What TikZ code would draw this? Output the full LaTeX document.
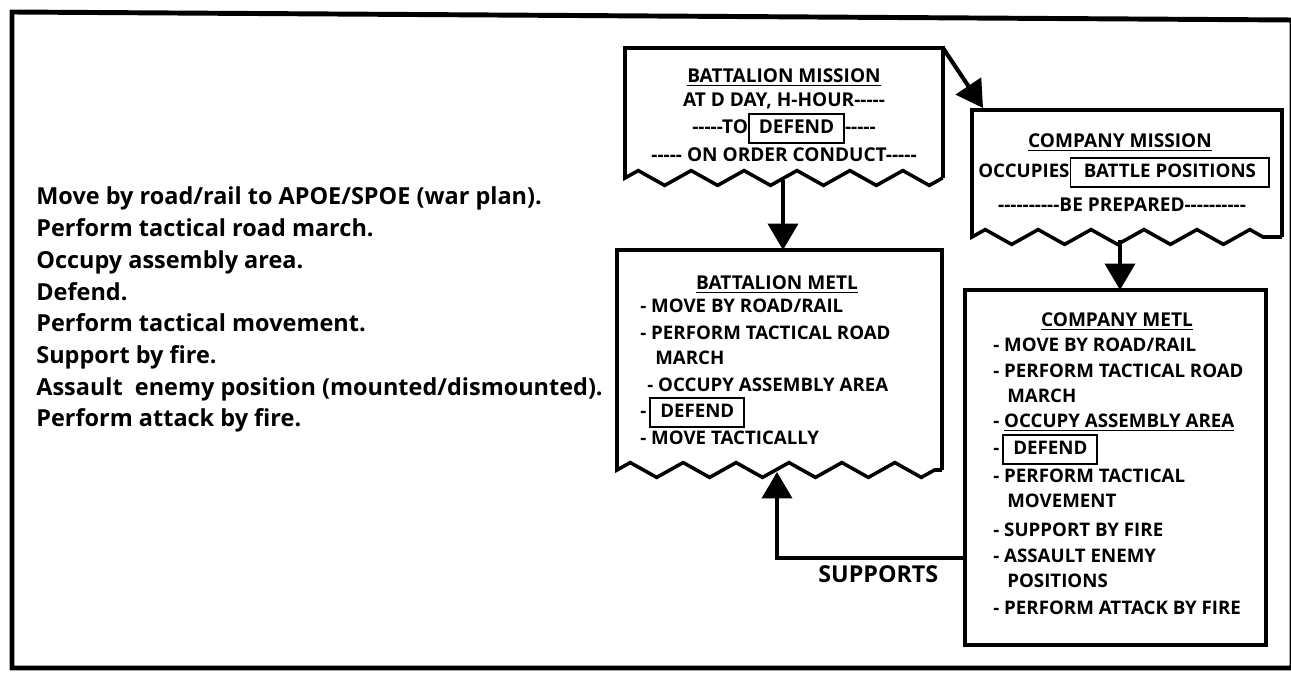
\documentclass[tikz,border=0pt]{standalone}
\usepackage{fontspec}
\setmainfont{Open Sans}[Ligatures=TeXOff]
\usetikzlibrary{arrows.meta,decorations.pathmorphing}
\tikzset{
  frame/.style={line width=2.8pt},
  box/.style={line width=2pt, line join=miter},
  torn/.style={decoration={zigzag, segment length=30pt, amplitude=4.2pt}},
  flow/.style={line width=2.3pt, line join=miter, -{Triangle[length=15pt,width=17pt]}},
  tasktext/.style={anchor=base west, inner sep=0pt, font=\fontsize{13.3}{15}\selectfont\bfseries},
  metltext/.style={anchor=base west, inner sep=0pt, font=\fontsize{10.6}{12}\selectfont\bfseries},
  boxtitle/.style={anchor=base, inner sep=0pt, font=\fontsize{10.8}{12}\selectfont\bfseries},
}
\newcommand{\taskbox}[2]{{\setlength{\fboxrule}{1.1pt}\setlength{\fboxsep}{0pt}%
  \fbox{\rule[-4.5pt]{0pt}{15.5pt}\hspace{#2}#1\hspace{#2}}}}
\begin{document}
\begin{tikzpicture}[x=0.5669pt, y=-0.5669pt]
\useasboundingbox (0,0) rectangle (1291,675);
\draw[frame] (12,668) -- (12,12) -- (1292,20) -- (1292,668) -- cycle;

% unit tasks
\foreach \t [count=\i] in {Move by road/rail to APOE/SPOE (war plan).,
  Perform tactical road march., Occupy assembly area., Defend.,
  Perform tactical movement., Support by fire.,
  Assault\ \ enemy position (mounted/dismounted)., Perform attack by fire.}
  \node[tasktext] (task\i) at (36,{205+31.7*(\i-1)}) {\t};

% battalion mission
\coordinate (bm-nw) at (625,48);
\coordinate (bm-ne) at (943,48);
\draw[box] (943,178) -- (bm-ne) -- (bm-nw) -- (625,178) decorate[torn]{-- (943,178)};
\node[boxtitle] (bm-title) at (784,83) {\underline{BATTALION MISSION}};
\node[boxtitle] (bm-l1) at (784,107) {AT D DAY, H-HOUR-----};
\node[boxtitle] (bm-l2) at (784,134) {-----TO\taskbox{DEFEND}{5pt}-----};
\node[boxtitle] (bm-l3) at (784,162) {----- ON ORDER CONDUCT-----};

% battalion metl
\coordinate (bmetl-nw) at (617,250);
\draw[box] (942,470) -- (942,250) -- (bmetl-nw) -- (617,470) decorate[torn]{-- (942,470)};
\node[boxtitle] (bmetl-title) at (777,290) {\underline{BATTALION METL}};
\node[metltext] (bmetl1) at (640,313) {- MOVE BY ROAD/RAIL};
\node[metltext] (bmetl2) at (640,340) {- PERFORM TACTICAL ROAD};
\node[metltext] (bmetl3) at (655,365) {MARCH};
\node[metltext] (bmetl4) at (647,392) {- OCCUPY ASSEMBLY AREA};
\node[metltext] (bmetl5) at (640,418) {-\,\taskbox{DEFEND}{5pt}};
\node[metltext] (bmetl6) at (640,445) {- MOVE TACTICALLY};

% company mission
\coordinate (cm-nw) at (972,110);
\draw[box] (1282,237) -- (1282,110) -- (cm-nw) -- (972,237) decorate[torn]{-- (1282,237)};
\node[boxtitle] (cm-title) at (1120,148) {\underline{COMPANY MISSION}};
\node[metltext] (cm-l1) at (978,178) {OCCUPIES\taskbox{BATTLE POSITIONS}{7pt}};
\node[boxtitle] (cm-l2) at (1122,212) {----------BE PREPARED----------};

% company metl
\coordinate (cmetl-nw) at (965,290);
\coordinate (cmetl-se) at (1266,645);
\draw[box] (cmetl-nw) rectangle (cmetl-se);
\node[boxtitle] (cmetl-title) at (1117,327) {\underline{COMPANY METL}};
\foreach \t/\x/\y [count=\i] in {{- MOVE BY ROAD/RAIL}/993/352, {- PERFORM TACTICAL ROAD}/993/378,
  {MARCH}/1007/403, {- \underline{OCCUPY ASSEMBLY AREA}}/993/428, {-\,\taskbox{DEFEND}{5pt}}/993/455,
  {- PERFORM TACTICAL}/993/483, {MOVEMENT}/1007/508, {- SUPPORT BY FIRE}/993/537,
  {- ASSAULT ENEMY}/993/563, {POSITIONS}/1007/588, {- PERFORM ATTACK BY FIRE}/993/615}
  \node[metltext] (cmetl\i) at (\x,\y) {\t};

% connectors
\coordinate (bm-out) at (783,180);
\coordinate (bmetl-in) at (783,250);
\coordinate (cm-in) at (983,108);
\coordinate (cm-out) at (1120,240);
\coordinate (cmetl-in) at (1120,290);
\coordinate (sup-from) at (965,558);
\coordinate (sup-to) at (777,472);
\draw[flow] (bm-out) -- (bmetl-in);
\draw[flow] (bm-ne) -- (cm-in);
\draw[flow] (cm-out) -- (cmetl-in);
\draw[flow] (sup-from) -| (sup-to);
\node[anchor=base west, inner sep=0pt, font=\fontsize{13.2}{15}\selectfont\bfseries] (supports) at (818,583) {SUPPORTS};
\end{tikzpicture}
\end{document}
